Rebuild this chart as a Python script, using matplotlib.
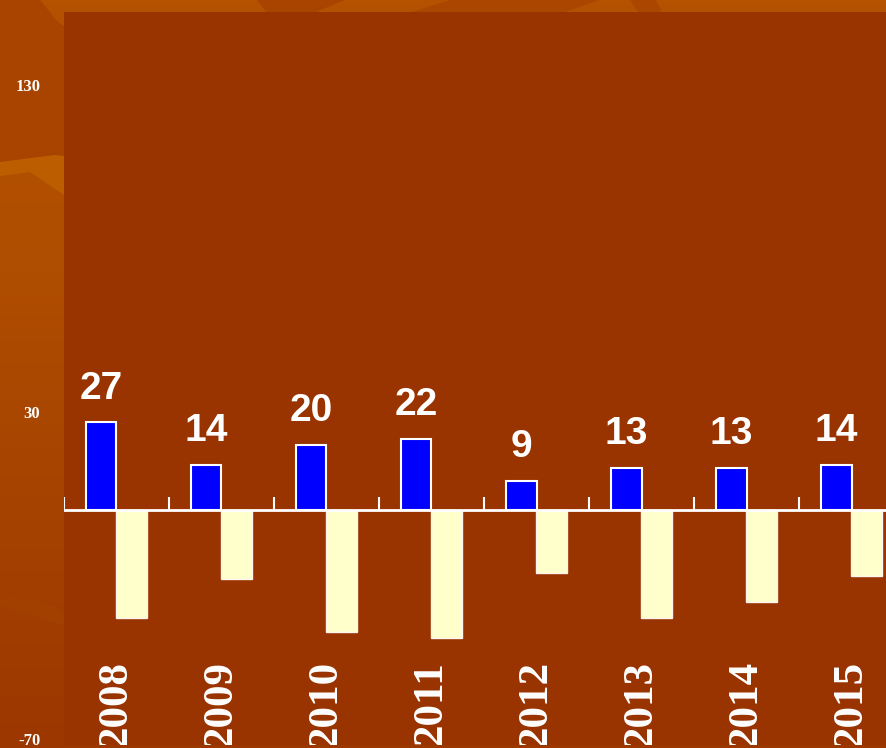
import numpy as np
import matplotlib.pyplot as plt
from matplotlib.patches import Polygon

anios = ["2008", "2009", "2010", "2011", "2012", "2013", "2014", "2015"]
positivos = [27, 14, 20, 22, 9, 13, 13, 14]
negativos = [-33, -21, -37, -39, -19, -33, -28, -20]
marcas_y = [-70, 30, 130]

fig = plt.figure(figsize=(8.87, 7.48), dpi=100)
fig.set_facecolor("#A64300")

# fondo decorativo (coordenadas en pixeles de la figura)
fondo = fig.add_axes([0, 0, 1, 1], zorder=-1)
fondo.set_xlim(0, 887)
fondo.set_ylim(748, 0)
fondo.axis("off")
gradiente = np.linspace(0, 1, 200).reshape(-1, 1)
fondo.imshow(gradiente, extent=[0, 887, 748, 0], aspect="auto",
             cmap=plt.matplotlib.colors.LinearSegmentedColormap.from_list(
                 "fondo", ["#B55200", "#B04E00", "#A64300", "#9C3700"]))
formas = [
    ([(0, 0), (40, 0), (58, 22), (64, 26), (64, 160), (0, 165)], "#A84400"),
    ([(0, 162), (55, 155), (64, 156), (64, 195), (30, 172), (0, 176)], "#BC5E00"),
    ([(0, 600), (12, 597), (50, 604), (64, 612), (64, 625), (0, 606)], "#A24000"),
    ([(257, 0), (345, 0), (316, 12), (266, 12)], "#A84400"),
    ([(412, 12), (450, 0), (600, 0), (565, 12)], "#AA4600"),
    ([(630, 0), (656, 0), (662, 12), (638, 12)], "#AA4600"),
]
for puntos, color in formas:
    fondo.add_patch(Polygon(puntos, closed=True, color=color, lw=0))

ax = fig.add_axes([64 / 887, 3 / 748, 823 / 887, 733 / 748])
ax.set_facecolor("#993300")

x = np.arange(len(anios))
ancho = 0.29
ax.bar(x + 0.5 - ancho / 2, positivos, ancho, color="#0000FF",
       edgecolor="white", linewidth=1.5, zorder=3)
ax.bar(x + 0.5 + ancho / 2, negativos, ancho, color="#FFFFCC",
       edgecolor="#FFF4EE", linewidth=1.0, zorder=3)

ax.axhline(0, color="white", lw=2, zorder=4)
ax.vlines(np.arange(len(anios) + 1), 0, 4, color="white", lw=1.5, zorder=4)

for xi, v in zip(x, positivos):
    ax.annotate(str(v), (xi + 0.5 - ancho / 2, v), xytext=(0, 17),
                textcoords="offset points", ha="center", va="baseline",
                color="white", fontsize=28, fontweight="bold",
                family="Liberation Sans")

for xi, a in zip(x, anios):
    ax.text(xi + 0.5, -46, a, rotation=90, ha="center", va="top",
            color="white", fontsize=31, fontweight="bold",
            family="Liberation Serif", clip_on=True)

ax.set_xlim(0, 823 / 105)
ax.set_ylim(-71.7, 152.4)
ax.set_xticks([])
ax.set_yticks(marcas_y)
ax.set_yticklabels([str(m) for m in marcas_y], color="white",
                   fontsize=12, fontweight="bold", family="Liberation Serif")
ax.tick_params(axis="y", length=0, pad=17)
for s in ax.spines.values():
    s.set_visible(False)

plt.savefig("out.png", dpi=100, facecolor=fig.get_facecolor())
